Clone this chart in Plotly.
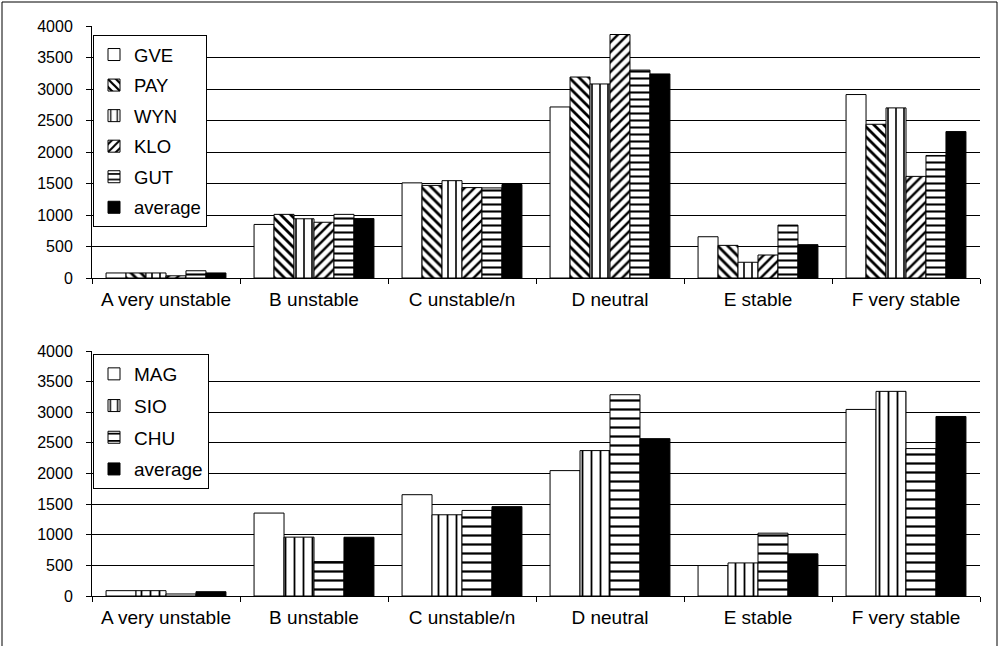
import plotly.graph_objects as go

categories = ["A very unstable", "B unstable", "C unstable/n", "D neutral", "E stable", "F very stable"]

# top panel series
GVE = [80, 850, 1510, 2715, 655, 2912]
PAY = [80, 1010, 1470, 3190, 518, 2440]
WYN = [80, 940, 1545, 3080, 250, 2700]
KLO = [35, 885, 1435, 3865, 365, 1613]
GUT = [115, 1010, 1430, 3300, 840, 1945]
AVG_TOP = [80, 943, 1484, 3239, 529, 2324]

# bottom panel series
MAG = [87, 1354, 1654, 2047, 497, 3046]
SIO = [87, 961, 1326, 2374, 540, 3341]
CHU = [33, 562, 1397, 3286, 1026, 2407]
AVG_BOT = [70, 959, 1459, 2569, 688, 2931]

y_ticks = [0, 500, 1000, 1500, 2000, 2500, 3000, 3500, 4000]

FONT = "Liberation Sans, Arial, sans-serif"

def pat(shape, size, sol):
    return dict(shape=shape, size=size, solidity=sol, fgcolor="black", bgcolor="white", fillmode="replace")

top_series = [
    ("GVE", GVE, None, "white"),
    ("PAY", PAY, pat("\\", 7, 0.4), "white"),
    ("WYN", WYN, pat("|", 8, 0.2), "white"),
    ("KLO", KLO, pat("/", 7, 0.35), "white"),
    ("GUT", GUT, pat("-", 7, 0.3), "white"),
    ("average", AVG_TOP, None, "black"),
]
bot_series = [
    ("MAG", MAG, None, "white"),
    ("SIO", SIO, pat("|", 9, 0.2), "white"),
    ("CHU", CHU, pat("-", 9, 0.25), "white"),
    ("average", AVG_BOT, None, "black"),
]

fig = go.Figure()
for i, (name, vals, p, col) in enumerate(top_series):
    m = dict(color=col, line=dict(color="black", width=1))
    if p:
        m["pattern"] = p
    fig.add_trace(go.Bar(x=categories, y=vals, name=name, marker=m,
                         xaxis="x", yaxis="y", legend="legend",
                         legendgroup="t%d" % i))
for i, (name, vals, p, col) in enumerate(bot_series):
    m = dict(color=col, line=dict(color="black", width=1))
    if p:
        m["pattern"] = p
    fig.add_trace(go.Bar(x=categories, y=vals, name=name, marker=m,
                         xaxis="x2", yaxis="y2", legend="legend2",
                         legendgroup="b%d" % i))

W, H = 1000, 646
ml, mr, mt, mb = 92, 20, 26, 50
pw = W - ml - mr
ph = H - mt - mb

def py(pix):
    return (H - mb - pix) / ph

def px(pix):
    return (pix - ml) / pw

xfont = dict(family=FONT, size=19, color="black")
yfont = dict(family=FONT, size=16, color="black")

def xaxis(anchor):
    return dict(domain=[0, 1], anchor=anchor, tickson="boundaries",
                showline=True, linecolor="black", linewidth=1,
                ticks="outside", ticklen=5, tickcolor="black",
                tickfont=xfont, ticklabelstandoff=4)

def yaxis(anchor, dom):
    return dict(domain=dom, anchor=anchor, range=[0, 4000], tickvals=y_ticks,
                showgrid=True, gridcolor="black", gridwidth=1, zeroline=False,
                showline=True, linecolor="black", linewidth=1,
                ticks="outside", ticklen=5, tickcolor="black",
                tickfont=yfont, ticklabelstandoff=10)

legend_common = dict(xanchor="left", yanchor="top",
                     bgcolor="white", bordercolor="black", borderwidth=1,
                     traceorder="grouped", itemwidth=30)

fig.update_layout(
    width=W, height=H,
    margin=dict(l=ml, r=mr, t=mt, b=mb),
    paper_bgcolor="white", plot_bgcolor="white",
    barmode="group",
    bargap=0.19,
    font=dict(family=FONT, size=16, color="black"),
    xaxis=xaxis("y"),
    yaxis=yaxis("x", [py(278), py(26)]),
    xaxis2=xaxis("y2"),
    yaxis2=yaxis("x2", [py(596), py(351)]),
    legend=dict(x=px(93), y=py(35), tracegroupgap=3.5,
                font=dict(family=FONT, size=18.5, color="black"), **legend_common),
    legend2=dict(x=px(93), y=py(354), tracegroupgap=4,
                 font=dict(family=FONT, size=19, color="black"), **legend_common),
    showlegend=True,
    shapes=[dict(type="rect", xref="paper", yref="paper",
                 x0=px(2), x1=px(997), y0=py(660), y1=py(2),
                 line=dict(color="black", width=1), layer="below")],
)

fig.write_html("out.html", config={"displayModeBar": False},
               post_script="document.body.style.margin='0px';")
